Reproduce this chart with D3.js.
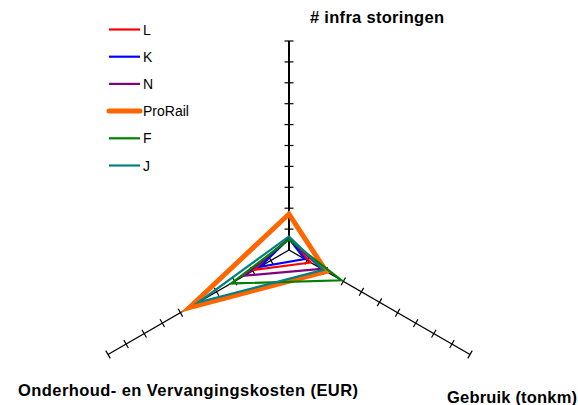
<!DOCTYPE html>
<html>
<head>
<meta charset="utf-8">
<script src="https://cdn.jsdelivr.net/npm/d3@7"></script>
<style>
  body { margin: 0; background: #fff; }
  svg { font-family: "Liberation Sans", Arial, sans-serif; }
</style>
</head>
<body>
<div id="chart"></div>
<script>
var width = 578, height = 405;

// axes, clockwise from the top
var axes = ["# infra storingen", "Gebruik (tonkm)", "Onderhoud- en Vervangingskosten (EUR)"];

var seriesNames = ["L", "K", "N", "ProRail", "F", "J"];
var seriesColors = ["#ff0000", "#0000ff", "#800080", "#ff6600", "#008000", "#008080"];

// values per series, in the order of axes
var valL       = [0.55, 1.2, 1.9];
var valK       = [0.55, 0.87, 1.6];
var valN       = [0.55, 1.8, 2.45];
var valProRail = [1.72, 2.06, 5.5];
var valF       = [0.5, 2.9, 3.2];
var valJ       = [0.65, 1.9, 5.0];
var values = [valL, valK, valN, valProRail, valF, valJ];

var tickCount = 10;

var cx = 289, cy = 250;

var svg = d3.select("#chart").append("svg")
    .attr("width", width)
    .attr("height", height);

var r = d3.scaleLinear().domain([0, tickCount]).range([0, 209]);

var angle = function(i) { return i * 2 * Math.PI / axes.length; };
var px = function(i, v) { return cx + r(v) * Math.sin(angle(i)); };
var py = function(i, v) { return cy - r(v) * Math.cos(angle(i)); };

// axis lines
var axisG = svg.append("g");
axes.forEach(function(a, i) {
    axisG.append("line")
        .attr("x1", cx).attr("y1", cy)
        .attr("x2", px(i, tickCount)).attr("y2", py(i, tickCount))
        .attr("stroke", "#000")
        .attr("stroke-width", i == 0 ? 2 : 1.3);

    // tick marks perpendicular to each axis
    var ticks = r.ticks(tickCount).filter(function(t) { return t > 0; });
    var a0 = angle(i);
    var tx = Math.cos(a0) * 4.5, ty = Math.sin(a0) * 4.5;
    axisG.selectAll(null)
        .data(ticks)
        .enter()
        .append("line")
        .attr("x1", function(t) { return px(i, t) - tx; })
        .attr("y1", function(t) { return py(i, t) - ty; })
        .attr("x2", function(t) { return px(i, t) + tx; })
        .attr("y2", function(t) { return py(i, t) + ty; })
        .attr("stroke", "#000")
        .attr("stroke-width", 1.2);
});

// series polygons
var line = d3.line()
    .x(function(d, i) { return px(i, d); })
    .y(function(d, i) { return py(i, d); })
    .curve(d3.curveLinearClosed);

svg.selectAll(".series")
    .data(values)
    .enter()
    .append("path")
    .attr("class", "series")
    .attr("d", line)
    .attr("fill", "none")
    .attr("stroke", function(d, i) { return seriesColors[i]; })
    .attr("stroke-width", function(d, i) { return seriesNames[i] == "ProRail" ? 5 : 2.2; })
    .attr("stroke-linejoin", "miter")
    .attr("stroke-miterlimit", 10);

// axis labels
svg.append("text")
    .attr("x", 310).attr("y", 23)
    .attr("textLength", 134)
    .style("font-size", "16.5px").style("font-weight", "bold")
    .text(axes[0]);

svg.append("text")
    .attr("x", 447).attr("y", 403)
    .attr("textLength", 130)
    .style("font-size", "16.5px").style("font-weight", "bold")
    .text(axes[1]);

svg.append("text")
    .attr("x", 18).attr("y", 396)
    .attr("textLength", 340)
    .style("font-size", "16.5px").style("font-weight", "bold")
    .text(axes[2]);

// legend
var legend = svg.append("g").attr("transform", "translate(109,29.5)");
var rows = legend.selectAll("g")
    .data(seriesNames)
    .enter()
    .append("g")
    .attr("transform", function(d, i) { return "translate(0," + (i * 27.2) + ")"; });

rows.append("line")
    .attr("x1", 0).attr("x2", 31)
    .attr("stroke", function(d, i) { return seriesColors[i]; })
    .attr("stroke-width", function(d) { return d == "ProRail" ? 5 : 2.2; })
    .attr("stroke-linecap", function(d) { return d == "ProRail" ? "round" : "butt"; });

rows.append("text")
    .attr("x", 34).attr("y", 5)
    .style("font-size", "14px")
    .text(function(d) { return d; });
</script>
</body>
</html>
